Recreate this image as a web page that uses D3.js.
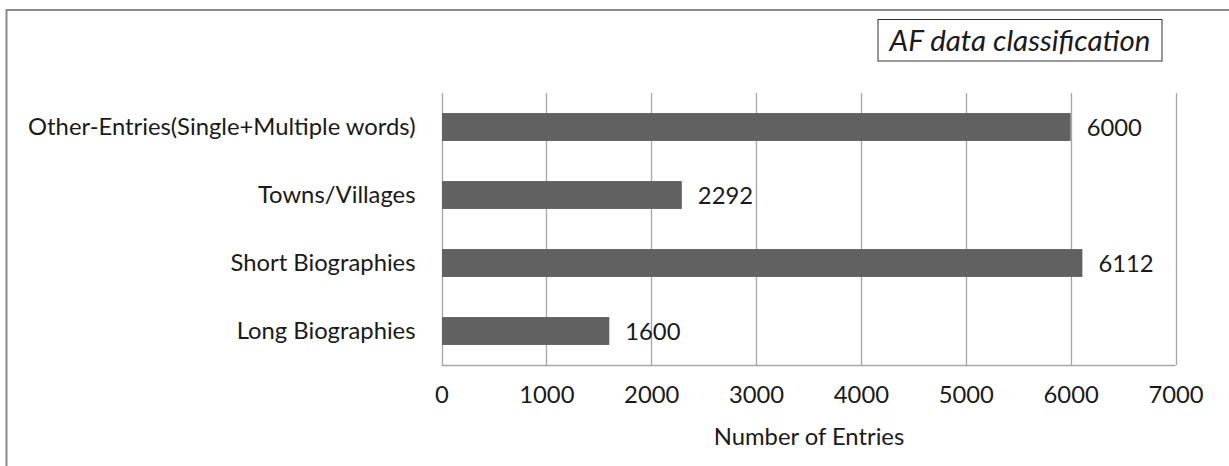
<!DOCTYPE html>
<html>
<head>
<meta charset="utf-8">
<script src="https://cdn.jsdelivr.net/npm/d3@7"></script>
<style>
  html, body { margin: 0; padding: 0; background: #fff; }
  svg { display: block; }
  text { font-family: Lato, "Open Sans", sans-serif; fill: #1a1a1a; }
</style>
</head>
<body>
<svg id="chart" width="1229" height="466"></svg>
<script>
// Entry counts per category (top to bottom as displayed)
const categories = [
  "Other-Entries(Single+Multiple words)",
  "Towns/Villages",
  "Short Biographies",
  "Long Biographies"
];
const entryCounts = [6000, 2292, 6112, 1600];
const xTicks = [0, 1000, 2000, 3000, 4000, 5000, 6000, 7000];
const chartTitle = "AF data classification";
const xAxisTitle = "Number of Entries";

const svg = d3.select("#chart");
const labelSize = 23.8;

// Outer frame
svg.append("rect")
  .attr("x", 6.5).attr("y", 10)
  .attr("width", 1240).attr("height", 480)
  .attr("fill", "none")
  .attr("stroke", "#8a8a8a")
  .attr("stroke-width", 2);

const plot = { left: 441.5, right: 1175.5, top: 93, bottom: 365 };

const x = d3.scaleLinear()
  .domain([0, 7000])
  .range([plot.left, plot.right]);

const y = d3.scaleBand()
  .domain(categories)
  .range([plot.top, plot.bottom])
  .paddingInner(0.59)
  .paddingOuter(0.295);

// Vertical gridlines
svg.append("g")
  .selectAll("line")
  .data(xTicks)
  .join("line")
  .attr("x1", d => Math.round(x(d)) + 0.5)
  .attr("x2", d => Math.round(x(d)) + 0.5)
  .attr("y1", plot.top)
  .attr("y2", plot.bottom)
  .attr("stroke", "#a6a6a6")
  .attr("stroke-width", 1.3);

// Bottom axis line
svg.append("line")
  .attr("x1", x(0)).attr("x2", x(7000))
  .attr("y1", plot.bottom + 0.5).attr("y2", plot.bottom + 0.5)
  .attr("stroke", "#a6a6a6")
  .attr("stroke-width", 1.3);

// Bars
svg.append("g")
  .selectAll("rect")
  .data(categories)
  .join("rect")
  .attr("x", x(0) + 0.5)
  .attr("y", d => y(d))
  .attr("width", (d, i) => x(entryCounts[i]) - x(0) - 0.5)
  .attr("height", y.bandwidth())
  .attr("fill", "#616161");

// Value labels
svg.append("g")
  .selectAll("text")
  .data(categories)
  .join("text")
  .attr("x", (d, i) => x(entryCounts[i]) + 16)
  .attr("y", d => y(d) + y.bandwidth() / 2)
  .attr("dy", "0.36em")
  .attr("font-size", labelSize)
  .text((d, i) => entryCounts[i]);

// X axis tick labels
const xAxis = d3.axisBottom(x)
  .tickValues(xTicks)
  .tickSize(0)
  .tickPadding(21)
  .tickFormat(d3.format("d"));
const gx = svg.append("g")
  .attr("transform", `translate(0,${plot.bottom})`)
  .call(xAxis);
gx.select(".domain").remove();
gx.selectAll("text")
  .attr("font-size", labelSize)
  .attr("font-family", "Lato, sans-serif")
  .attr("fill", "#1a1a1a");

// Category labels
const yAxis = d3.axisLeft(y).tickSize(0).tickPadding(26);
const gy = svg.append("g")
  .attr("transform", `translate(${plot.left},0)`)
  .call(yAxis);
gy.select(".domain").remove();
gy.selectAll("text")
  .attr("font-size", labelSize)
  .attr("font-family", "Lato, sans-serif")
  .attr("fill", "#1a1a1a");

// Axis title
svg.append("text")
  .attr("x", 809)
  .attr("y", 445)
  .attr("text-anchor", "middle")
  .attr("font-size", labelSize)
  .text(xAxisTitle);

// Boxed chart title
const titleBox = { x: 878, y: 19.5, w: 284, h: 41.5 };
svg.append("rect")
  .attr("x", titleBox.x).attr("y", titleBox.y)
  .attr("width", titleBox.w).attr("height", titleBox.h)
  .attr("fill", "#fff")
  .attr("stroke", "#333")
  .attr("stroke-width", 1);
svg.append("text")
  .attr("x", titleBox.x + titleBox.w / 2)
  .attr("y", titleBox.y + titleBox.h / 2)
  .attr("dy", "0.36em")
  .attr("text-anchor", "middle")
  .attr("font-size", 29.5)
  .attr("font-style", "italic")
  .text(chartTitle);
</script>
</body>
</html>
